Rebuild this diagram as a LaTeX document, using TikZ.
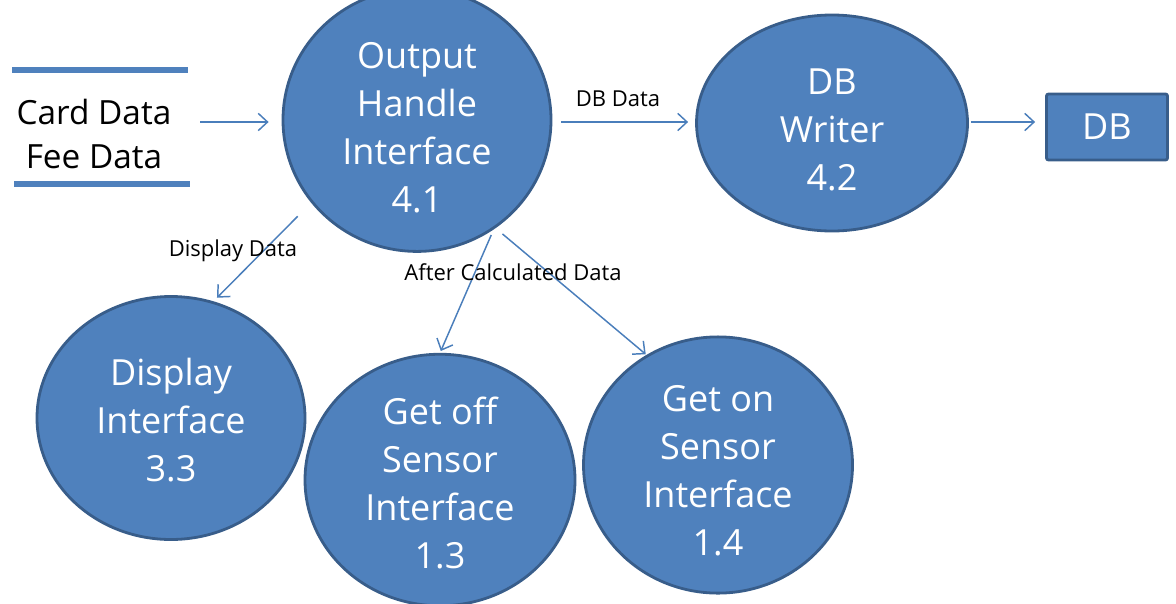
\documentclass[tikz,border=0pt]{standalone}
\usepackage{fontspec}
\setmainfont{Open Sans}
\usetikzlibrary{shapes.geometric,arrows.meta}
\definecolor{bfill}{HTML}{4F81BD}
\definecolor{bdraw}{HTML}{385D8A}
\definecolor{aline}{HTML}{4A7EBB}
\newcommand\topstrut[1]{\rule{0pt}{#1}}
\tikzset{
  proc/.style={ellipse, fill=bfill, draw=bdraw, line width=2.1pt, text=white, align=center,
    inner sep=0pt, font=\fontsize{27}{36}\selectfont},
  dbbox/.style={rectangle, fill=bfill, draw=bdraw, line width=2.1pt, text=white,
    rounded corners=1.5pt, font=\fontsize{27}{36}\selectfont},
  arr/.style={draw=aline, line width=1.1pt, -{Straight Barb[length=7pt,width=13pt,line width=1.1pt]}},
  storeline/.style={draw=bfill, line width=3.8pt},
  lbl/.style={font=\fontsize{16.5}{18}\selectfont, text=black, inner sep=0pt},
  storetxt/.style={font=\fontsize{25}{33}\selectfont, text=black, align=center, inner sep=0pt}
}
\begin{document}
\begin{tikzpicture}[x=0.75pt,y=-0.75pt]
\useasboundingbox (0,0) rectangle (1176,603);
% data store
\draw[storeline] (12,70) -- (188,70);
\draw[storeline] (14,184) -- (190,184);
\node[storetxt] (store) at (94,134) {Card Data\\Fee Data};
\coordinate (storeout) at (200,122);
% processes
\node[proc, minimum width=268*0.75pt, minimum height=230*0.75pt] (oh) at (417,120) {\topstrut{31pt}Output\\Handle\\Interface\\4.1};
\node[proc, minimum width=271*0.75pt, minimum height=216*0.75pt] (dbw) at (832,123) {\topstrut{29pt}DB\\Writer\\4.2};
\node[dbbox, minimum width=121*0.75pt, minimum height=66*0.75pt] (db) at (1107,127) {DB};
\node[proc, minimum width=268*0.75pt, minimum height=243*0.75pt] (disp) at (171,418) {\topstrut{23.5pt}Display\\Interface\\3.3};
\node[proc, minimum width=270*0.75pt, minimum height=240*0.75pt] (goff) at (440,480) {\topstrut{25pt}Get off\\Sensor\\Interface\\1.3};
\node[proc, minimum width=269*0.75pt, minimum height=240*0.75pt] (gon) at (718,465) {\topstrut{27.5pt}Get on\\Sensor\\Interface\\1.4};
% connectors
\draw[arr, shorten >=13*0.75pt] (storeout) -- (storeout -| oh.west);
\draw[arr, shorten <=9*0.75pt, shorten >=7*0.75pt] ([yshift=-2*0.75pt]oh.east) -- ([yshift=-2*0.75pt]oh.east -| dbw.west);
\draw[arr, shorten <=2*0.75pt, shorten >=10*0.75pt] ([yshift=1*0.75pt]dbw.east) -- ([yshift=1*0.75pt]dbw.east -| db.west);
\draw[arr, shorten <=19*0.75pt, shorten >=5*0.75pt] (oh.218) -- (disp.70);
\draw[arr, shorten <=6*0.75pt, shorten >=2*0.75pt] (oh.305) -- (goff.90);
\draw[arr, shorten <=9*0.75pt, shorten >=1*0.75pt] (oh.306.6) -- (gon.123);
% labels
\node[lbl] (l1) at (618,99) {DB Data};
\node[lbl] (l2) at (233,251) {Display Data};
\node[lbl] (l3) at (513,272) {After Calculated Data};
\end{tikzpicture}
\end{document}
